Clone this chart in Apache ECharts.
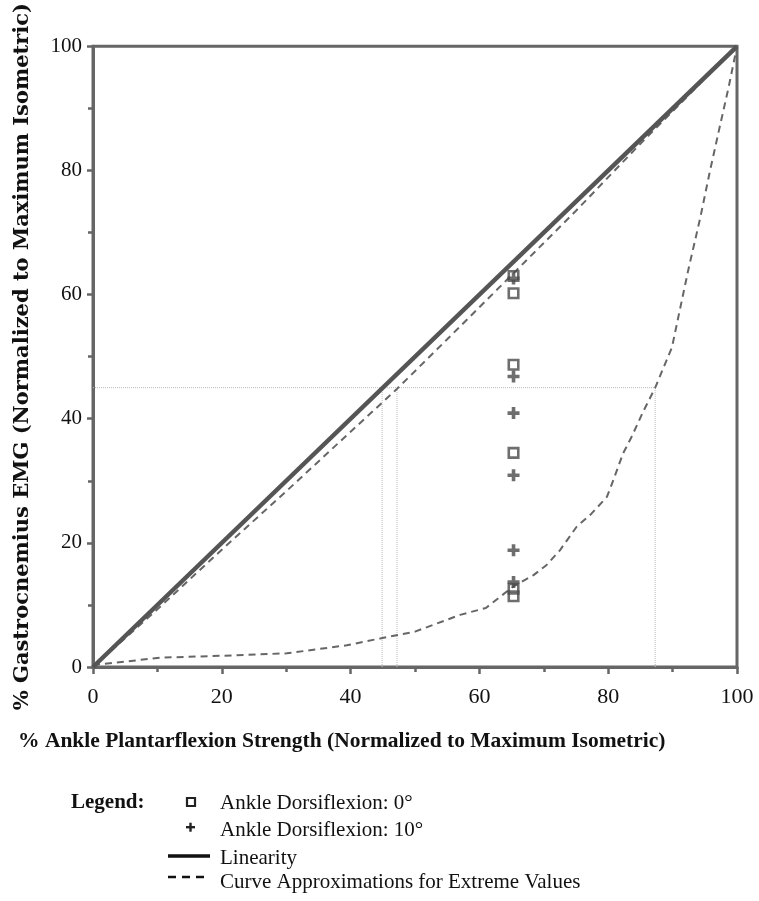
<!DOCTYPE html>
<html>
<head>
<meta charset="utf-8">
<script src="https://cdn.jsdelivr.net/npm/echarts@6/dist/echarts.min.js"></script>
<style>html,body{margin:0;padding:0;background:#fff;}#c{width:759px;height:901px;}</style>
</head>
<body>
<div id="c"></div>
<script>
// ---- data ----
const strengthAtTest = 65.3;
const emgDorsi0 = [63.0, 60.2, 48.7, 34.5, 12.6, 11.4];
const emgDorsi10 = [62.6, 46.8, 40.9, 30.9, 18.8, 13.7];
const linearity = [[0, 0], [100, 100]];
const upperCurve = [[0, 0], [10, 9.3], [20, 18.9], [30, 28.3], [40, 37.9], [47.2, 44.8], [55, 52.8], [64.2, 62.3], [75, 73.5], [85, 84.3], [100, 100]];
const lowerCurve = [[0, 0.3], [2.6, 0.6], [10.4, 1.5], [19.7, 1.8], [30.1, 2.2], [39.4, 3.5], [44.6, 4.6], [50, 5.7], [57, 8.4], [61, 9.5], [65.3, 13.0], [68.4, 14.8], [70.4, 16.4], [72.5, 18.8], [75.1, 22.6], [77.4, 24.7], [79.8, 27.4], [80.8, 30.1], [82.3, 34.4], [83.6, 37.0], [85.5, 41.3], [87.3, 45.0], [89.9, 51.5], [92.4, 63.8], [94.3, 72.4], [95.8, 79.9], [97.4, 87.4], [98.7, 93.4], [100, 100]];
const refLevel = 45;
const refCrossings = [44.9, 47.2, 87.3];
const xTicks = [0, 20, 40, 60, 80, 100];
const yTicks = [0, 20, 40, 60, 80, 100];

const gray = '#555';
const serif = '"Liberation Serif", "Times New Roman", serif';
const plusPath = 'path://M3.5,0h3v3.5h3.5v3h-3.5v3.5h-3v-3.5h-3.5v-3h3.5z';

const refSeries = [];
refSeries.push({
  type: 'line', data: [[0, refLevel], [refCrossings[refCrossings.length - 1], refLevel]],
  symbol: 'none', silent: true, z: 1,
  lineStyle: { color: '#bbb', width: 1, type: [1, 1] }
});
refCrossings.forEach(x => refSeries.push({
  type: 'line', data: [[x, 0], [x, refLevel]],
  symbol: 'none', silent: true, z: 1,
  lineStyle: { color: '#bbb', width: 1, type: [1, 1] }
}));

const chart = echarts.init(document.getElementById('c'), null, { renderer: 'canvas' });
chart.setOption({
  animation: false,
  backgroundColor: '#fff',
  grid: { left: 93, right: 22, top: 45, bottom: 234, show: true, borderColor: '#666', borderWidth: 3 },
  xAxis: {
    type: 'value', min: 0, max: 100, interval: 20,
    axisLine: { show: true, lineStyle: { color: '#666', width: 3 } },
    axisTick: { show: true, length: 7, lineStyle: { color: '#666', width: 2.5 } },
    minorTick: { show: true, splitNumber: 2, length: 5, lineStyle: { color: '#666', width: 2.5 } },
    splitLine: { show: false },
    axisLabel: { color: '#111', fontFamily: serif, fontSize: 22, margin: 19, formatter: v => xTicks.includes(v) ? String(v) : '' }
  },
  yAxis: {
    type: 'value', min: 0, max: 100, interval: 20,
    name: '% Gastrocnemius EMG (Normalized to Maximum Isometric)',
    nameLocation: 'middle', nameGap: 60,
    nameTextStyle: { color: '#111', fontFamily: '"DejaVu Serif", serif', fontWeight: 'bold', fontSize: 21 },
    axisLine: { show: true, lineStyle: { color: '#666', width: 3 } },
    axisTick: { show: true, length: 6, lineStyle: { color: '#666', width: 2.5 } },
    minorTick: { show: true, splitNumber: 2, length: 5, lineStyle: { color: '#666', width: 2.5 } },
    splitLine: { show: false },
    axisLabel: { color: '#111', fontFamily: serif, fontSize: 21, margin: 11, formatter: v => yTicks.includes(v) ? String(v) : '' }
  },
  series: [
    ...refSeries,
    {
      name: 'Linearity', type: 'line', data: linearity, symbol: 'none', z: 3,
      lineStyle: { color: gray, width: 4.5 }
    },
    {
      name: 'Curve Approximations for Extreme Values', type: 'line', data: upperCurve, symbol: 'none', z: 2,
      lineStyle: { color: '#666', width: 2, type: [7, 5] }
    },
    {
      name: 'Curve Approximations for Extreme Values', type: 'line', data: lowerCurve, symbol: 'none', z: 2,
      lineStyle: { color: '#666', width: 2, type: [7, 5] }
    },
    {
      name: 'Ankle Dorsiflexion: 0°', type: 'scatter', z: 4,
      data: emgDorsi0.map(v => [strengthAtTest, v]),
      symbol: 'rect', symbolSize: 9.5,
      itemStyle: { color: 'rgba(255,255,255,0)', borderColor: '#4a4a4a', borderWidth: 2.6 }
    },
    {
      name: 'Ankle Dorsiflexion: 10°', type: 'scatter', z: 5,
      data: emgDorsi10.map(v => [strengthAtTest, v]),
      symbol: plusPath, symbolSize: 12,
      itemStyle: { color: '#4a4a4a' }
    }
  ],
  graphic: [
    { type: 'text', x: 18, y: 741, style: { text: '% Ankle Plantarflexion Strength (Normalized to Maximum Isometric)', font: 'bold 21.5px ' + serif, fill: '#111', verticalAlign: 'middle' } },
    { type: 'text', x: 71, y: 803, style: { text: 'Legend:', font: 'bold 21px ' + serif, fill: '#111', verticalAlign: 'middle' } },
    { type: 'rect', shape: { x: 187, y: 798, width: 8, height: 8 }, style: { fill: 'none', stroke: '#222', lineWidth: 2.2 } },
    { type: 'text', x: 220, y: 803, style: { text: 'Ankle Dorsiflexion: 0°', font: '21px ' + serif, fill: '#111', verticalAlign: 'middle' } },
    { type: 'rect', shape: { x: 186, y: 826, width: 9, height: 2.4 }, style: { fill: '#222' } },
    { type: 'rect', shape: { x: 189.3, y: 822.7, width: 2.4, height: 9 }, style: { fill: '#222' } },
    { type: 'text', x: 220, y: 830, style: { text: 'Ankle Dorsiflexion: 10°', font: '21px ' + serif, fill: '#111', verticalAlign: 'middle' } },
    { type: 'line', shape: { x1: 168, y1: 856, x2: 210, y2: 856 }, style: { stroke: '#111', lineWidth: 3.5 } },
    { type: 'text', x: 220, y: 858, style: { text: 'Linearity', font: '21px ' + serif, fill: '#111', verticalAlign: 'middle' } },
    { type: 'line', shape: { x1: 168, y1: 877, x2: 210, y2: 877 }, style: { stroke: '#111', lineWidth: 2.5, lineDash: [8, 6] } },
    { type: 'text', x: 220, y: 882, style: { text: 'Curve Approximations for Extreme Values', font: '21px ' + serif, fill: '#111', verticalAlign: 'middle' } }
  ]
});
</script>
</body>
</html>
